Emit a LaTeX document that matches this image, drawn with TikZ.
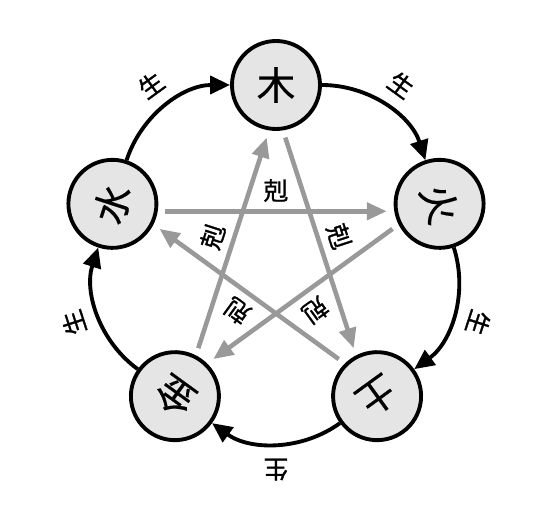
\documentclass[tikz,border=0pt]{standalone}
\usepackage{fontspec}
\newfontfamily\cjkfont[FakeBold=0.5]{Noto Sans CJK SC}
\newfontfamily\cjklabel[FakeBold=1.2]{Noto Sans CJK SC}
\usetikzlibrary{arrows.meta}
\definecolor{kegray}{gray}{0.6}
\definecolor{elemfill}{gray}{0.9}
\tikzset{
  element/.style  = {circle, draw, line width=2.2pt, fill=elemfill, minimum size=1.76cm, inner sep=0pt, font=\cjkfont\fontsize{22}{22}\selectfont},
  sheng/.style    = {-{Triangle[length=4mm, width=3.6mm]}, line width=2.2pt, bend left=36, looseness=0.94},
  ke/.style       = {-{Triangle[length=4mm, width=3.4mm]}, line width=2.6pt, draw=kegray, shorten <=0.6cm, shorten >=0.6cm},
  shenglabel/.style = {midway, sloped, allow upside down, above=0.26cm, inner sep=0pt, font=\cjklabel\fontsize{14}{14}\selectfont},
  kelabel/.style  = {midway, sloped, allow upside down, above=0.14cm, inner sep=0pt, font=\cjklabel\fontsize{14}{14}\selectfont}
}

\begin{document}
\begin{tikzpicture}
  \useasboundingbox (0,0) rectangle (10.76,10.5);
  \begin{scope}[shift={(5.52,5.36)}]
    % five elements
    \node[element, rotate=0]    (mu)   at (90:3.44)  {木};
    \node[element, rotate=-72]  (huo)  at (18:3.44)  {火};
    \node[element, rotate=-144] (tu)   at (-54:3.44) {土};
    \node[element, rotate=144]  (jin)  at (234:3.44) {金};
    \node[element, rotate=72]   (shui) at (162:3.44) {水};

    % star points
    \coordinate (k-mu)   at (90:2.96);
    \coordinate (k-huo)  at (18:2.96);
    \coordinate (k-tu)   at (-54:2.96);
    \coordinate (k-jin)  at (234:2.96);
    \coordinate (k-shui) at (162:2.96);

    % generating cycle
    \draw[sheng] (shui) to node[shenglabel] {生} (mu);
    \draw[sheng] (mu)   to node[shenglabel] {生} (huo);
    \draw[sheng] (huo)  to node[shenglabel] {生} (tu);
    \draw[sheng] (tu)   to node[shenglabel] {生} (jin);
    \draw[sheng] (jin)  to node[shenglabel] {生} (shui);

    % overcoming star
    \draw[ke] (k-shui) -- node[kelabel] {剋} (k-huo);
    \draw[ke] (k-mu)   -- node[kelabel] {剋} (k-tu);
    \draw[ke] (k-tu)   -- node[kelabel] {剋} (k-shui);
    \draw[ke] (k-huo)  -- node[kelabel] {剋} (k-jin);
    \draw[ke] (k-jin)  -- node[kelabel] {剋} (k-mu);
  \end{scope}
\end{tikzpicture}
\end{document}
